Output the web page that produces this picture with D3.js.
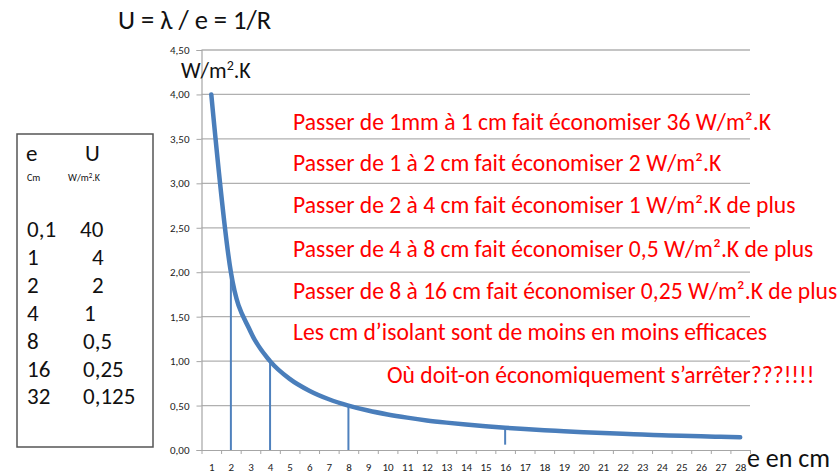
<!DOCTYPE html>
<html>
<head>
<meta charset="utf-8">
<script src="https://cdn.jsdelivr.net/npm/d3@7"></script>
<style>
  html, body { margin: 0; padding: 0; background: #fff; }
  svg { display: block; font-family: Carlito, Calibri, Lato, sans-serif; }
</style>
</head>
<body>
<svg id="chart" width="840" height="473"></svg>
<script>
// Thickness e (cm) on the category axis and transmission coefficient U (W/m².K)
const thickness = d3.range(1, 29);
const uValues = [4.000, 2.000, 1.333, 1.000, 0.800, 0.667, 0.571, 0.500, 0.444, 0.400,
                 0.364, 0.333, 0.308, 0.286, 0.267, 0.250, 0.235, 0.222, 0.211, 0.200,
                 0.190, 0.182, 0.174, 0.167, 0.160, 0.154, 0.148, 0.143];
const yTicks = [0, 0.5, 1, 1.5, 2, 2.5, 3, 3.5, 4, 4.5];

// Vertical guide lines dropped from the curve
const guideE = [2, 4, 8, 16];
const guideTop = [2.00, 1.00, 0.50, 0.25];
const guideBottom = [0, 0, 0, 0.06];

// Side table
const tableE = ["0,1", "1", "2", "4", "8", "16", "32"];
const tableU = ["40", "4", "2", "1", "0,5", "0,25", "0,125"];

// Commentary lines
const notes = [
  "Passer de 1mm à 1 cm fait économiser 36 W/m².K",
  "Passer de 1 à 2 cm fait économiser 2 W/m².K",
  "Passer de 2 à 4 cm fait économiser 1 W/m².K de plus",
  "Passer de 4 à 8 cm fait économiser 0,5 W/m².K de plus",
  "Passer de 8 à 16 cm fait économiser 0,25 W/m².K de plus",
  "Les cm d’isolant sont de moins en moins efficaces",
  "Où doit-on économiquement s’arrêter???!!!!"
];

const svg = d3.select("#chart");
const plot = { left: 201.5, right: 750, top: 50, bottom: 450 };
const FONT = "Carlito, Calibri, Lato, sans-serif";

const x = d3.scaleLinear().domain([0.5, 28.5]).range([plot.left, plot.right]);
const y = d3.scaleLinear().domain([0, 4.5]).range([plot.bottom, plot.top]);
const fmt = v => d3.format(".2f")(v).replace(".", ",");

// Horizontal gridlines
svg.append("g")
  .selectAll("line")
  .data(yTicks.filter(v => v > 0))
  .join("line")
  .attr("x1", plot.left).attr("x2", plot.right)
  .attr("y1", d => y(d)).attr("y2", d => y(d))
  .attr("stroke", "#b0b0b0").attr("stroke-width", 1.3);

// Y axis
const yAxis = svg.append("g")
  .attr("transform", `translate(${plot.left},0)`)
  .call(d3.axisLeft(y).tickValues(yTicks).tickFormat(fmt).tickSize(5).tickPadding(7));
yAxis.select(".domain").attr("stroke", "#a6a6a6").attr("stroke-width", 1.2);
yAxis.selectAll(".tick line").attr("stroke", "#a6a6a6");
yAxis.selectAll("text").attr("font-size", 11).attr("fill", "#222").attr("font-family", FONT);

// X axis: tick marks between categories, labels centred on them
const xTickMarks = svg.append("g")
  .attr("transform", `translate(0,${plot.bottom})`)
  .call(d3.axisBottom(x).tickValues(d3.range(0.5, 29, 1)).tickFormat("").tickSize(4).tickSizeOuter(0));
xTickMarks.select(".domain").attr("stroke", "#a6a6a6").attr("stroke-width", 1.2);
xTickMarks.selectAll(".tick line").attr("stroke", "#a6a6a6");

const xLabels = svg.append("g")
  .attr("transform", `translate(0,${plot.bottom})`)
  .call(d3.axisBottom(x).tickValues(thickness).tickFormat(d3.format("d")).tickSize(0).tickPadding(13));
xLabels.select(".domain").remove();
xLabels.selectAll("text").attr("font-size", 11).attr("fill", "#222").attr("font-family", FONT);

// Guide lines
svg.append("g")
  .selectAll("line")
  .data(guideE)
  .join("line")
  .attr("x1", d => x(d)).attr("x2", d => x(d))
  .attr("y1", (d, i) => y(guideTop[i])).attr("y2", (d, i) => y(guideBottom[i]))
  .attr("stroke", "#4f81bd").attr("stroke-width", 2);

// U curve
const line = d3.line()
  .x((d, i) => x(thickness[i]))
  .y(d => y(d))
  .curve(d3.curveMonotoneX);
svg.append("path")
  .datum(uValues)
  .attr("d", line)
  .attr("fill", "none")
  .attr("stroke", "#4a7ebb")
  .attr("stroke-width", 4.5)
  .attr("stroke-linecap", "round");

// Title and axis names
svg.append("text").attr("x", 118).attr("y", 29).attr("font-size", 26.5).attr("fill", "#111")
  .text("U = λ / e = 1/R");
const unit = svg.append("text").attr("x", 181).attr("y", 78).attr("font-size", 22).attr("fill", "#111");
unit.append("tspan").text("W/m");
unit.append("tspan").attr("font-size", 14).attr("dy", -8).text("2");
unit.append("tspan").attr("dy", 8).text(".K");
svg.append("text").attr("x", 747).attr("y", 467).attr("font-size", 26).attr("fill", "#111")
  .text("e en cm");

// Commentary in red
const noteX = [293, 293, 293, 293, 293, 293, 387];
const noteY = [129.5, 171, 213, 256.5, 298.5, 340, 383];
svg.append("g")
  .selectAll("text")
  .data(notes)
  .join("text")
  .attr("x", (d, i) => noteX[i])
  .attr("y", (d, i) => noteY[i])
  .attr("font-size", 23.6)
  .attr("fill", "#ff0000")
  .text(d => d);

// Side table
const table = svg.append("g");
table.append("rect")
  .attr("x", 17).attr("y", 134).attr("width", 136).attr("height", 313)
  .attr("fill", "#fff").attr("stroke", "#555").attr("stroke-width", 1.5);
table.append("text").attr("x", 26).attr("y", 161).attr("font-size", 23).attr("fill", "#111").text("e");
table.append("text").attr("x", 85).attr("y", 161).attr("font-size", 23).attr("fill", "#111").text("U");
table.append("text").attr("x", 27).attr("y", 181).attr("font-size", 10).attr("fill", "#111").text("Cm");
const tu = table.append("text").attr("x", 68).attr("y", 181).attr("font-size", 10).attr("fill", "#111");
tu.append("tspan").text("W/m");
tu.append("tspan").attr("font-size", 7).attr("dy", -3).text("2");
tu.append("tspan").attr("dy", 3).text(".K");

const rowY = d3.range(tableE.length).map(i => 237 + i * 27.9);
const uX = [80, 92, 92, 84, 83, 83, 83];
table.append("g").selectAll("text").data(tableE).join("text")
  .attr("x", 27).attr("y", (d, i) => rowY[i])
  .attr("font-size", 23).attr("fill", "#111").text(d => d);
table.append("g").selectAll("text").data(tableU).join("text")
  .attr("x", (d, i) => uX[i]).attr("y", (d, i) => rowY[i])
  .attr("font-size", 23).attr("fill", "#111").text(d => d);
</script>
</body>
</html>
